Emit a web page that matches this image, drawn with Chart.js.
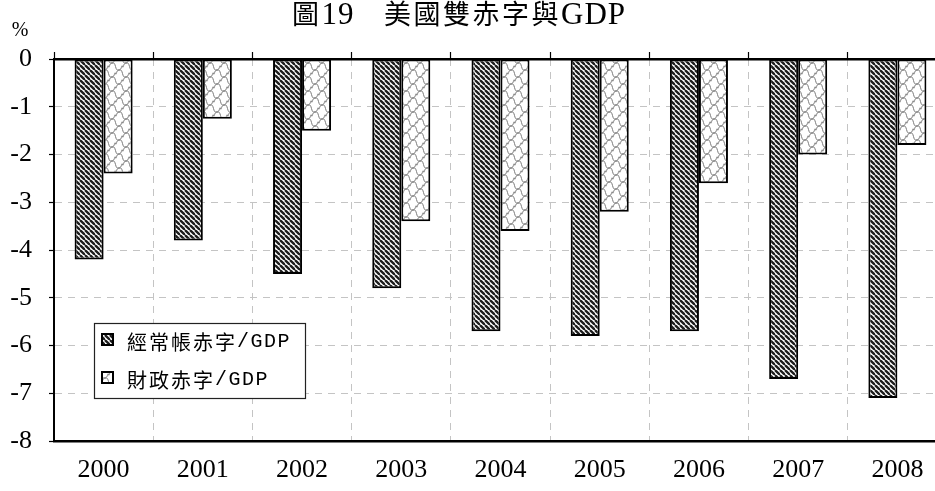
<!DOCTYPE html>
<html><head><meta charset="utf-8">
<script src="https://cdn.jsdelivr.net/npm/chart.js@4"></script>
<style>
html,body{margin:0;padding:0;background:#fff;overflow:hidden;width:935px;height:491px}
#wrap{position:relative;width:960px;height:491px}
canvas{display:block}
</style></head>
<body><div id="wrap"><canvas id="c" width="960" height="491"></canvas></div>
<script>
// ---- data ----
const years = ['2000','2001','2002','2003','2004','2005','2006','2007','2008'];
const currentAccountDeficit = [-4.2,-3.8,-4.5,-4.8,-5.7,-5.8,-5.7,-6.7,-7.1];
const fiscalDeficit = [-2.4,-1.25,-1.5,-3.4,-3.6,-3.2,-2.6,-2.0,-1.8];
const seriesNames = ['經常帳赤字/GDP','財政赤字/GDP'];
const titleParts = [['圖','cjk'],['19','latin'],['　','cjk'],['美國雙赤字與','cjk'],['GDP','latin']];
const unitLabel = '%';
const yMin = -8, yMax = 0, yStep = 1;

// ---- patterns ----
const mainCtx = document.getElementById('c').getContext('2d');
function stripePattern(){
  const s = 5, c = document.createElement('canvas'); c.width = c.height = s;
  const x = c.getContext('2d');
  x.fillStyle = '#fff'; x.fillRect(0,0,s,s);
  x.strokeStyle = '#1e1e1e'; x.lineWidth = 2.3;
  for (const o of [-s,0,s]) { x.beginPath(); x.moveTo(o,0); x.lineTo(o+s,s); x.stroke(); }
  return mainCtx.createPattern(c,'repeat');
}
function wavePattern(){
  const w = 14, h = 14, c = document.createElement('canvas'); c.width = w; c.height = h;
  const x = c.getContext('2d');
  x.fillStyle = '#fff'; x.fillRect(0,0,w,h);
  x.strokeStyle = '#7a7a7a'; x.lineWidth = 1;
  const seg = (x0,y0,x1,y1) => {
    const mx = (x0+x1)/2, my = (y0+y1)/2;
    x.beginPath(); x.moveTo(x0,y0);
    x.bezierCurveTo(x0+3, y0, mx-1, my-3, mx, my);
    x.bezierCurveTo(mx+1, my+3, x1-3, y1, x1, y1);
    x.stroke();
  };
  for (const ox of [-14,0,14]) for (const oy of [-14,0,14]) {
    seg(ox+0,oy+7, ox+7,oy+0);
    seg(ox+7,oy+0, ox+14,oy+7);
    seg(ox+0,oy+7, ox+7,oy+14);
    seg(ox+7,oy+14, ox+14,oy+7);
  }
  return mainCtx.createPattern(c,'repeat');
}
const patCA = stripePattern();
const patFiscal = wavePattern();

const serif = "'Liberation Serif','Times New Roman',serif";
const cjk = "'Noto Sans CJK TC','Noto Sans CJK SC',sans-serif";

const overlay = {
  id: 'overlay',
  afterDraw(chart){
    const ctx = chart.ctx;
    ctx.save();
    // title
    const fonts = {cjk: `27px ${cjk}`, latin: `31px ${serif}`};
    const sp = {cjk: 2.5, latin: 1};
    let total = 0; const widths = [];
    for (const [t,k] of titleParts){ ctx.font = fonts[k]; let w = 0; for (const ch of t) w += ctx.measureText(ch).width + sp[k]; widths.push(w); total += w; }
    let x = 459 - total/2;
    ctx.fillStyle = '#000'; ctx.textBaseline = 'alphabetic'; ctx.textAlign = 'left';
    titleParts.forEach(([t,k],i)=>{
      ctx.font = fonts[k];
      for (const ch of t) { ctx.fillText(ch, x, 24); x += ctx.measureText(ch).width + sp[k]; }
    });
    // unit
    ctx.font = `20px ${serif}`; ctx.textAlign = 'center'; ctx.textBaseline = 'middle';
    ctx.fillText(unitLabel, 20, 31);
    // legend
    ctx.fillStyle = '#fff';
    ctx.fillRect(94,323,211,75);
    ctx.strokeStyle = '#222'; ctx.lineWidth = 1.2;
    ctx.strokeRect(94.5,323.5,211,75);
    const items = [[seriesNames[0], chart.data.datasets[0].backgroundColor, 340],[seriesNames[1], chart.data.datasets[1].backgroundColor, 378]];
    for (const [label, bg, cy] of items){
      ctx.fillStyle = bg; ctx.fillRect(102, cy-6, 11, 11);
      ctx.strokeStyle = '#000'; ctx.lineWidth = 2; ctx.strokeRect(102, cy-6, 11, 11);
      const m = label.match(/^([^\/]*)(.*)$/);
      ctx.fillStyle = '#000'; ctx.textAlign = 'left'; ctx.textBaseline = 'middle';
      ctx.font = `20px ${cjk}`;
      let tx = 127;
      for (const ch of m[1]) { ctx.fillText(ch, tx, cy+2); tx += 22; }
      ctx.font = `20px 'Liberation Mono',monospace`;
      for (const ch of m[2]) { ctx.fillText(ch, tx, cy+2); tx += 13.5; }
    }
    ctx.restore();
  }
};

new Chart(mainCtx, {
  type: 'bar',
  data: {
    labels: years,
    datasets: [
      {label: seriesNames[0], data: currentAccountDeficit, backgroundColor: patCA, borderColor: '#000', borderWidth: 2, borderSkipped: false},
      {label: seriesNames[1], data: fiscalDeficit, backgroundColor: patFiscal, borderColor: '#000', borderWidth: 2, borderSkipped: false}
    ]
  },
  options: {
    responsive: false, animation: false, devicePixelRatio: 1,
    layout: {padding: {top: 52, left: 0, right: 13, bottom: 0}},
    datasets: {bar: {categoryPercentage: 0.585, barPercentage: 1.0}},
    plugins: {legend: {display: false}, title: {display: false}, tooltip: {enabled: false}},
    scales: {
      x: {
        position: 'bottom', offset: true,
        grid: {color: '#c4c4c4', lineWidth: 1, drawTicks: false, offset: true},
        border: {display: true, color: '#000', width: 2.5, dash: [7,6]},
        ticks: {font: {family: serif, size: 26}, color: '#000', padding: 14},
        afterFit: s => { s.height = 50; }
      },
      x2: {
        type: 'category', labels: years, position: 'top', offset: true,
        grid: {drawOnChartArea: false, drawTicks: true, tickLength: 7, tickColor: '#000', tickWidth: 1.2, offset: true},
        border: {display: true, color: '#000', width: 2.5},
        ticks: {display: false},
        afterFit: s => { s.height = 7; }
      },
      y: {
        min: yMin, max: yMax,
        grid: {color: '#c4c4c4', lineWidth: 1, tickLength: 5, tickColor: '#000', tickWidth: 1.2},
        border: {display: true, color: '#000', width: 2, dash: [7,6]},
        ticks: {stepSize: yStep, font: {family: serif, size: 26}, color: '#000', padding: 17},
        afterFit: s => { s.width = 54; }
      }
    }
  },
  plugins: [overlay]
});
</script></body></html>
